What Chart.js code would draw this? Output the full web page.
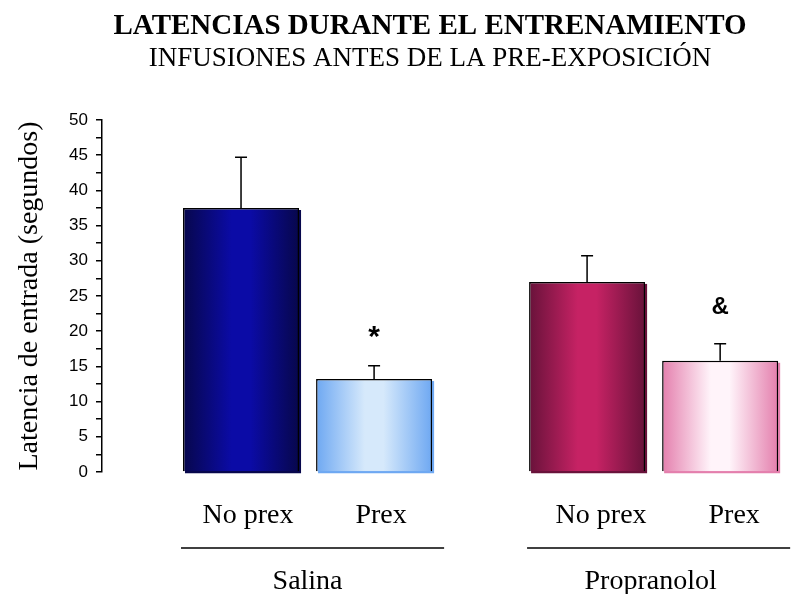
<!DOCTYPE html>
<html>
<head>
<meta charset="utf-8">
<script src="https://cdn.jsdelivr.net/npm/chart.js@4.4.0/dist/chart.umd.min.js"></script>
<style>
  html, body { margin: 0; padding: 0; background: #fff; }
  canvas { display: block; }
</style>
</head>
<body>
<canvas id="chart" width="791" height="594"></canvas>
<script>
// groups and conditions
var groups = ['Salina', 'Propranolol'];
var conditions = ['No prex', 'Prex'];

// mean latency (s) and error per group
var noPrex = [37.5, 27.0];
var noPrexErr = [7.2, 3.7];
var prex = [13.2, 15.8];
var prexErr = [1.9, 2.4];

// significance marks over the Prex bars
var prexMarks = ['*', '&'];

// y axis
var yMax = 50;
var yStep = 5;

var serif = '"Liberation Serif", "Times New Roman", serif';
var sans = '"Liberation Sans", Arial, sans-serif';

// draws gradient fills and a small offset shadow under each bar
var barStyle = {
    id: 'barStyle',
    beforeDatasetsDraw: function (chart) {
        var ctx = chart.ctx;
        chart.data.datasets.forEach(function (ds, di) {
            chart.getDatasetMeta(di).data.forEach(function (bar, i) {
                var l = bar.x - bar.width / 2, r = bar.x + bar.width / 2;
                var g = ctx.createLinearGradient(l, 0, r, 0);
                g.addColorStop(0, ds.edge[i]);
                g.addColorStop(0.42, ds.mid[i]);
                g.addColorStop(0.58, ds.mid[i]);
                g.addColorStop(1, ds.edge[i]);
                bar.options.backgroundColor = g;
                ctx.save();
                ctx.fillStyle = ds.edge[i];
                ctx.fillRect(l + 2, bar.y + 2, bar.width, bar.base - bar.y);
                ctx.restore();
            });
        });
    }
};

// upper error bars and marks
var errorBars = {
    id: 'errorBars',
    afterDatasetsDraw: function (chart) {
        var ctx = chart.ctx, y = chart.scales.y;
        ctx.save();
        ctx.strokeStyle = '#000';
        ctx.lineWidth = 1.5;
        chart.data.datasets.forEach(function (ds, di) {
            chart.getDatasetMeta(di).data.forEach(function (bar, i) {
                var top = y.getPixelForValue(ds.data[i].y + ds.err[i]);
                ctx.beginPath();
                ctx.moveTo(bar.x, bar.y);
                ctx.lineTo(bar.x, top);
                ctx.moveTo(bar.x - 6, top);
                ctx.lineTo(bar.x + 6, top);
                ctx.stroke();
                if (ds.marks && ds.marks[i]) {
                    ctx.fillStyle = '#000';
                    ctx.textAlign = 'center';
                    ctx.textBaseline = 'middle';
                    ctx.font = ds.marks[i] === '*' ? 'bold 30px ' + sans : 'bold 24px ' + sans;
                    ctx.fillText(ds.marks[i], bar.x, top - (ds.marks[i] === '*' ? 28 : 36));
                }
            });
        });
        ctx.restore();
    }
};

// titles, condition labels and group brackets
var labels = {
    id: 'labels',
    afterDraw: function (chart) {
        var ctx = chart.ctx;
        var nudge = [7, 14];
        ctx.save();
        ctx.fillStyle = '#000';
        ctx.textAlign = 'center';
        ctx.textBaseline = 'middle';
        ctx.font = 'bold 29px ' + serif;
        ctx.fillText('LATENCIAS DURANTE EL ENTRENAMIENTO', 430, 27);
        ctx.font = '27px ' + serif;
        ctx.fillText('INFUSIONES ANTES DE LA PRE-EXPOSICIÓN', 430, 59);

        var m0 = chart.getDatasetMeta(0).data, m1 = chart.getDatasetMeta(1).data;
        ctx.font = '28px ' + serif;
        groups.forEach(function (g, i) {
            var a = m0[i], b = m1[i];
            ctx.fillText(conditions[0], a.x + nudge[i], 516);
            ctx.fillText(conditions[1], b.x + nudge[i], 516);
            var l = a.x - a.width / 2 - 2, r = b.x + b.width / 2 + 12;
            ctx.strokeStyle = '#000';
            ctx.lineWidth = 1.5;
            ctx.beginPath();
            ctx.moveTo(l, 548);
            ctx.lineTo(r, 548);
            ctx.stroke();
            ctx.fillText(g, (a.x + b.x) / 2 - i * 3, 582);
        });
        ctx.restore();
    }
};

function points(vals) {
    return vals.map(function (v, i) { return { x: i, y: v }; });
}

var chart = new Chart(document.getElementById('chart').getContext('2d'), {
    type: 'bar',
    data: {
        datasets: [
            {
                label: conditions[0],
                data: points(noPrex),
                err: noPrexErr,
                edge: ['#07074c', '#68123a'],
                mid: ['#0b0ba6', '#c62264'],
                backgroundColor: ['#0b0ba6', '#c62264'],
                borderColor: '#000',
                borderWidth: 1.5,
                categoryPercentage: 0.769,
                barPercentage: 0.872
            },
            {
                label: conditions[1],
                data: points(prex),
                err: prexErr,
                marks: prexMarks,
                edge: ['#6ea8f2', '#e47fad'],
                mid: ['#d6e9fb', '#fff4fa'],
                backgroundColor: ['#d6e9fb', '#fff4fa'],
                borderColor: '#000',
                borderWidth: 1.5,
                categoryPercentage: 0.769,
                barPercentage: 0.872
            }
        ]
    },
    options: {
        responsive: false,
        animation: false,
        layout: { padding: { top: 120, bottom: 122, left: 0, right: 0 } },
        plugins: {
            legend: { display: false },
            title: { display: false },
            tooltip: { enabled: false }
        },
        scales: {
            x: {
                type: 'linear',
                display: false,
                offset: false,
                grid: { offset: false },
                min: -0.594,
                max: 1.397,
                // one tick per group so the bar width follows the group spacing
                afterBuildTicks: function (scale) {
                    scale.ticks = groups.map(function (g, i) { return { value: i }; });
                }
            },
            y: {
                min: 0,
                max: yMax,
                afterFit: function (scale) { scale.width = 102; },
                ticks: {
                    stepSize: yStep / 2,
                    autoSkip: false,
                    padding: 8,
                    color: '#000',
                    font: { family: sans, size: 17 },
                    callback: function (v) { return v % yStep === 0 ? v : ''; }
                },
                grid: {
                    drawOnChartArea: false,
                    color: '#000',
                    lineWidth: 1.5,
                    tickLength: 6
                },
                border: { color: '#000', width: 1.5 },
                title: {
                    display: true,
                    text: 'Latencia de entrada (segundos)',
                    color: '#000',
                    font: { family: serif, size: 28 },
                    padding: { top: 13, bottom: 0 }
                }
            }
        }
    },
    plugins: [barStyle, errorBars, labels]
});
</script>
</body>
</html>
